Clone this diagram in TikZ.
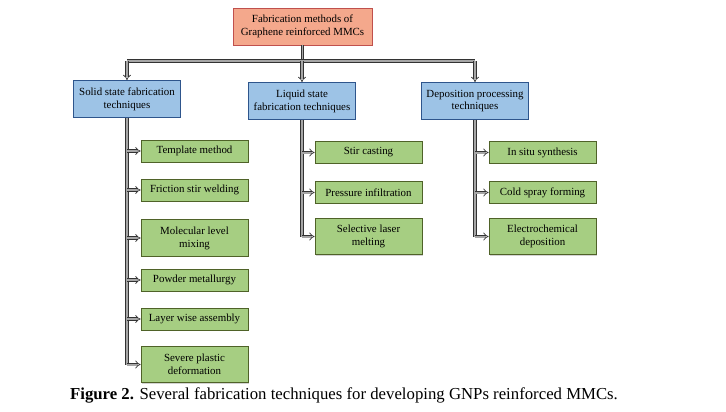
\documentclass[tikz,border=0pt]{standalone}
\usepackage{fontspec}
\setmainfont{Liberation Serif}
\usetikzlibrary{arrows.meta,shadows}

\definecolor{topfill}{RGB}{244,168,140}
\definecolor{topline}{RGB}{192,80,77}
\definecolor{catfill}{RGB}{157,195,230}
\definecolor{catline}{RGB}{46,85,140}
\definecolor{leaffill}{RGB}{166,206,130}
\definecolor{leafline}{RGB}{79,98,40}

\begin{document}
\begin{tikzpicture}[x=0.03cm,y=-0.03cm,
  box/.style={draw,line width=0.6pt,align=center,inner sep=1pt,
    font=\fontsize{9.3}{11}\selectfont,
    drop shadow={shadow xshift=0.8pt,shadow yshift=-0.8pt,opacity=0.35}},
  topbox/.style={box,fill=topfill,draw=topline,minimum width=4.17cm,minimum height=1.11cm},
  catbox/.style={box,fill=catfill,draw=catline,minimum width=3.21cm,minimum height=1.11cm},
  leaf/.style={box,fill=leaffill,draw=leafline,minimum width=3.21cm,minimum height=0.66cm},
  tall/.style={minimum height=1.1cm},
  bar/.style={draw=black!80,double=gray!70,double distance=1.7pt,line width=0.6pt},
  arr/.style={bar,-{Implies}}]
\useasboundingbox (0,0) rectangle (726,411);
% Root
\node[topbox] (root) at (302.5,26.5) {Fabrication methods of\\Graphene reinforced MMCs};
% Categories
\node[catbox] (sol) at (127,99) {Solid state fabrication\\techniques};
\node[catbox] (liq) at (302,101) {Liquid state\\fabrication techniques};
\node[catbox] (dep) at (475,101) {Deposition processing\\techniques};
% Solid state
\node[leaf] (tmp) at (194.5,151) {Template method};
\node[leaf] (fsw) at (194.5,190) {Friction stir welding};
\node[leaf,tall] (mlm) at (194.5,238) {Molecular level\\mixing};
\node[leaf] (pm) at (194.5,280) {Powder metallurgy};
\node[leaf] (lwa) at (194.5,319) {Layer wise assembly};
\node[leaf,tall] (spd) at (194.5,364.5) {Severe plastic\\deformation};
% Liquid state
\node[leaf] (stc) at (368.5,152.5) {Stir casting};
\node[leaf] (pin) at (368.5,192.5) {Pressure infiltration};
\node[leaf,tall] (slm) at (368.5,236.5) {Selective laser\\melting};
% Deposition
\node[leaf] (iss) at (542.5,152.5) {In situ synthesis};
\node[leaf] (csf) at (542.5,192.5) {Cold spray forming};
\node[leaf,tall] (ecd) at (542.5,236.5) {Electrochemical\\deposition};
% Connectors
\coordinate (bus) at (302,61);
\draw[bar] (root.south) -- (root.south|-bus);
\draw[bar] (sol.north|-bus) -- (dep.north|-bus);
\foreach \c in {sol,liq,dep}
  \draw[arr] (\c.north|-bus) -- (\c.north);
\draw[bar] (sol.south) -- (sol.south|-spd.west);
\foreach \n in {tmp,fsw,mlm,pm,lwa,spd}
  \draw[arr] (sol.south|-\n.west) -- (\n.west);
\draw[bar] (liq.south) -- (liq.south|-slm.west);
\foreach \n in {stc,pin,slm}
  \draw[arr] (liq.south|-\n.west) -- (\n.west);
\draw[bar] (dep.south) -- (dep.south|-ecd.west);
\foreach \n in {iss,csf,ecd}
  \draw[arr] (dep.south|-\n.west) -- (\n.west);
% Caption
\node[font=\fontsize{14.3}{16}\selectfont] (cap) at (344,395)
  {\textbf{Figure 2.} Several fabrication techniques for developing GNPs reinforced MMCs.};
\end{tikzpicture}
\end{document}
